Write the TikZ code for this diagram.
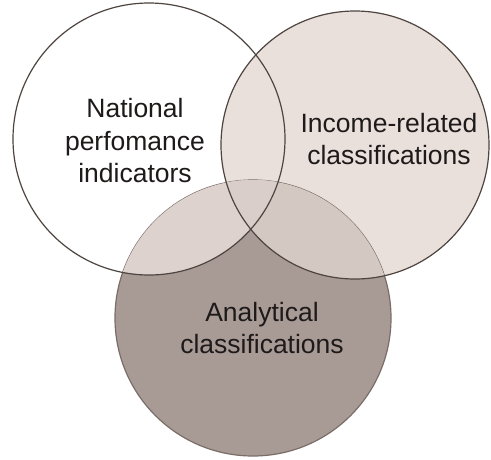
\documentclass[tikz,border=0pt]{standalone}
\usepackage{fontspec}
\setmainfont{Liberation Sans}
\begin{document}
\definecolor{rimcol}{HTML}{4E4440}
\definecolor{rightfill}{HTML}{E9E0DC}
\definecolor{lowfill}{HTML}{A89B96}
\definecolor{lowrim}{HTML}{7A6D68}
\definecolor{leftlow}{HTML}{DDD2CE}
\definecolor{rightlow}{HTML}{D4C8C3}
\definecolor{allthree}{HTML}{D9CECA}
\definecolor{labelcol}{HTML}{1E1A1A}
\begin{tikzpicture}[x=1pt,y=-1pt,
  rim/.style={draw=rimcol,line width=1.2pt},
  label/.style={text=labelcol,align=center,font=\fontsize{26.5}{32.5}\selectfont}]
\useasboundingbox (0,0) rectangle (491,459);
\fill[white] (0,0) rectangle (491,459);
% the three sets
\coordinate (cl) at (149,139);
\coordinate (cr) at (355,145);
\coordinate (cb) at (253,318);
\def\rl{136}\def\rr{134}\def\rb{138}
% base fills
\fill[white] (cl) circle[radius=\rl];
\fill[rightfill] (cr) circle[radius=\rr];
\filldraw[fill=lowfill,draw=lowrim,line width=1.2pt] (cb) circle[radius=\rb];
% lighter overlaps inside the lower set
\begin{scope}
  \clip (cb) circle[radius=\rb];
  \fill[leftlow] (cl) circle[radius=\rl];
  \fill[rightlow] (cr) circle[radius=\rr];
  \clip (cl) circle[radius=\rl];
  \fill[allthree] (cr) circle[radius=\rr];
\end{scope}
% outlines of the two upper sets
\draw[rim] (cl) circle[radius=\rl];
\draw[rim] (cr) circle[radius=\rr];
% labels
\node[label] (national) at (135,141) {National\\perfomance\\indicators};
\node[label] (income) at (389,139) {Income-related\\classifications};
\node[label] (analytical) at (262,328) {Analytical\\classifications};
\end{tikzpicture}
\end{document}
